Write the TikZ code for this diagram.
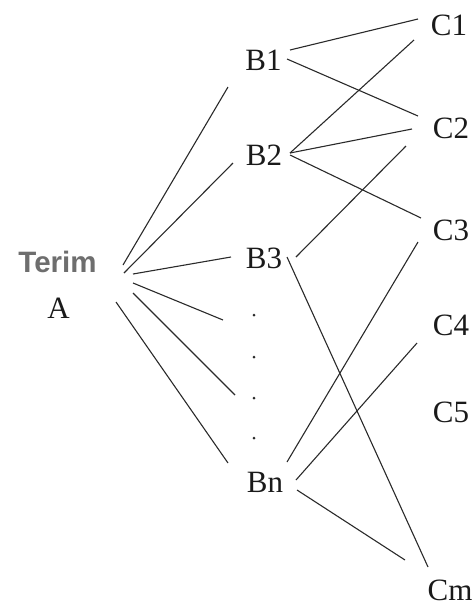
\documentclass[tikz,border=0pt]{standalone}
\usepackage{fontspec}
\setmainfont{Liberation Serif}
\newfontfamily\termfont{Liberation Sans}
\usetikzlibrary{calc}
\definecolor{ink}{HTML}{1A1A1A}
\definecolor{edge}{HTML}{2A2A2A}
\definecolor{termgray}{HTML}{6E6E6E}
\tikzset{
  lbl/.style={anchor=base, inner sep=0pt, text=ink, font=\fontsize{31}{31}\selectfont},
  termlbl/.style={anchor=base, inner sep=0pt, text=termgray},
  dotnode/.style={circle, fill=edge, inner sep=0pt, minimum size=3pt},
  link/.style={draw=edge, line width=1.1pt}
}
\begin{document}
\begin{tikzpicture}[x=1pt,y=-1pt]
\useasboundingbox (0,0) rectangle (475,606);
% labels
\node[termlbl, font=\termfont\bfseries\fontsize{29.5}{30}\selectfont] (terim) at (57.5,272) {Terim};
\node[lbl] (A) at (58.5,318) {A};
\node[lbl] (B1) at (263.5,70) {B1};
\node[lbl] (B2) at (264,165) {B2};
\node[lbl] (B3) at (264,268) {B3};
\node[lbl] (Bn) at (265,492) {Bn};
\node[dotnode] (d1) at (254,315) {};
\node[dotnode] (d2) at (254,357) {};
\node[dotnode] (d3) at (254,398) {};
\node[dotnode] (d4) at (254,438) {};
\node[lbl] (C1) at (449,35) {C1};
\node[lbl] (C2) at (451,138) {C2};
\node[lbl] (C3) at (451,240) {C3};
\node[lbl] (C4) at (451,335) {C4};
\node[lbl] (C5) at (451,422) {C5};
\node[lbl] (Cm) at (450,600) {Cm};
% A fan
\draw[link] ($(terim.base)+(65.5,-7)$) -- ($(B1.base)+(-35.5,17)$);
\draw[link] ($(terim.base)+(66.5,1)$) -- ($(B2.base)+(-31,-2)$);
\draw[link] ($(terim.base)+(75.5,2)$) -- ($(B3.base)+(-33,-11)$);
\draw[link] ($(terim.base)+(75.5,11)$) -- ($(d1)+(-31,5)$);
\draw[link] ($(terim.base)+(75.5,21)$) -- ($(d3)+(-19,-3)$);
\draw[link] ($(A.base)+(57.5,-16)$) -- ($(Bn.base)+(-37,-29)$);
% B to C
\draw[link] ($(B1.base)+(26.5,-20)$) -- ($(C1.base)+(-31,-16)$);
\draw[link] ($(B1.base)+(23.5,-11)$) -- ($(C2.base)+(-33,-22)$);
\draw[link] ($(B2.base)+(26,-12)$) -- ($(C1.base)+(-35,5)$);
\draw[link] ($(B2.base)+(26,-12)$) -- ($(C2.base)+(-39,-9)$);
\draw[link] ($(B2.base)+(26,-10)$) -- ($(C3.base)+(-30,-22)$);
\draw[link] ($(B3.base)+(32,-11)$) -- ($(C2.base)+(-45,8)$);
\draw[link] ($(B3.base)+(23,-11)$) -- ($(Cm.base)+(-22,-33)$);
\draw[link] ($(Bn.base)+(22,-30)$) -- ($(C3.base)+(-33,2)$);
\draw[link] ($(Bn.base)+(31,-12)$) -- ($(C4.base)+(-34,8)$);
\draw[link] ($(Bn.base)+(32,-2)$) -- ($(Cm.base)+(-45,-40)$);
\end{tikzpicture}
\end{document}
